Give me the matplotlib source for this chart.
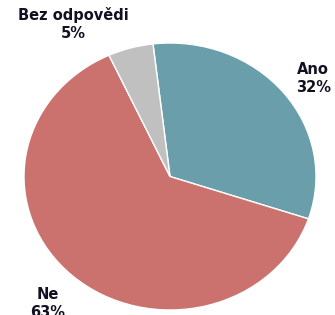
import matplotlib
matplotlib.use("Agg")
import matplotlib.pyplot as plt

# survey answers
labels = ["Ano", "Ne", "Bez odpovědi"]
values = [32, 63, 5]
colors = ["#6A9EAB", "#CB726E", "#C0C0C0"]

fig = plt.figure(figsize=(3.35, 3.15), dpi=100)
# pie is drawn slightly squashed, so use an axes with auto aspect
ax = fig.add_axes([24 / 335, 5 / 315, 292 / 335, 267 / 315])

ax.pie(
    values,
    colors=colors,
    startangle=96.7,
    counterclock=False,
    radius=1,
    wedgeprops={"edgecolor": "white", "linewidth": 1},
)
ax.set_aspect("auto")
ax.set_xlim(-1, 1)
ax.set_ylim(-1, 1)

# label positions (data coords, outside the pie)
label_pos = {"Ano": (0.98, 0.735), "Ne": (-0.84, -0.955), "Bez odpovědi": (-0.665, 1.145)}
for lab, val in zip(labels, values):
    x, y = label_pos[lab]
    ax.text(
        x, y, f"{lab}\n{val}%",
        ha="center", va="center",
        fontsize=10.5, fontweight="bold", color="#111122",
        linespacing=1.25, clip_on=False,
    )

ax.axis("off")
fig.savefig("out.png", dpi=100)
